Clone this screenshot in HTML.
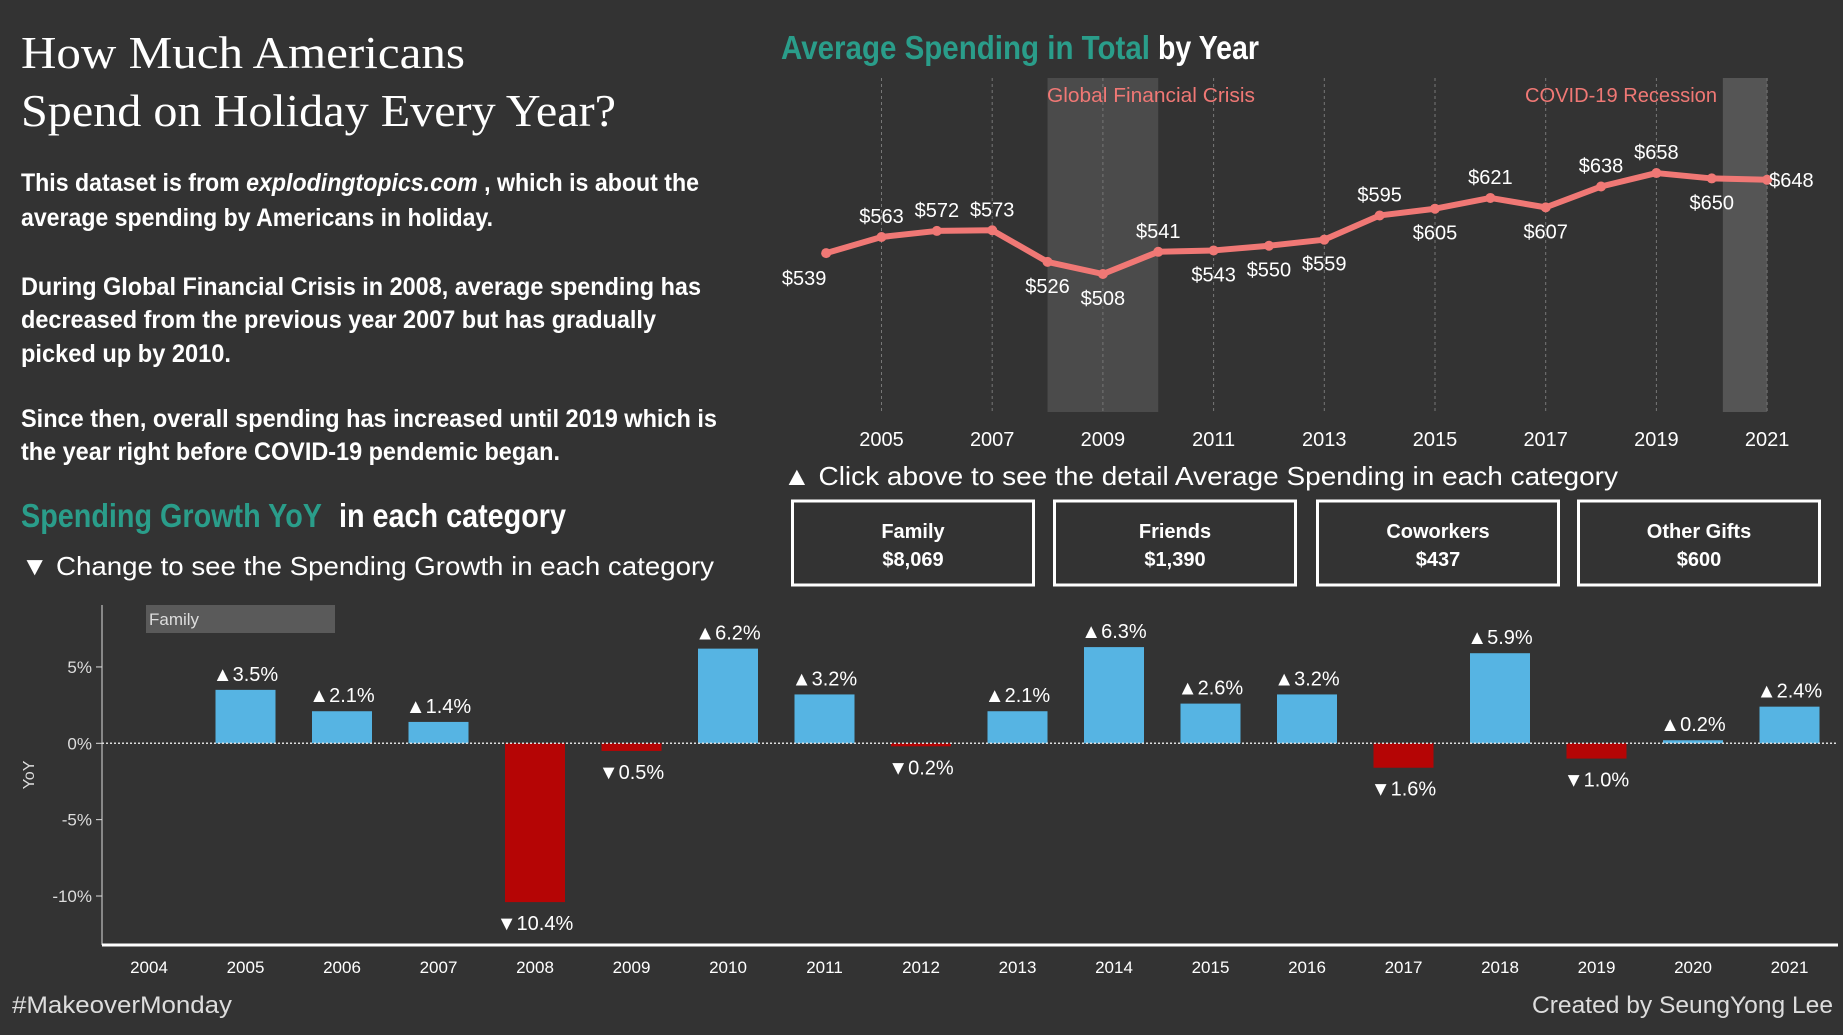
<!DOCTYPE html>
<html><head><meta charset="utf-8"><style>
html,body{margin:0;padding:0;background:#333333;}
svg{display:block;font-family:"Liberation Sans",sans-serif;}
</style></head><body>
<svg width="1843" height="1035" viewBox="0 0 1843 1035">
<rect x="0" y="0" width="1843" height="1035" fill="#333333"/>

<g fill="#ffffff">
<text x="21" y="68" font-family="Liberation Serif,serif" font-size="46" textLength="444" lengthAdjust="spacingAndGlyphs">How Much Americans</text>
<text x="21" y="126" font-family="Liberation Serif,serif" font-size="46" textLength="595" lengthAdjust="spacingAndGlyphs">Spend on Holiday Every Year?</text>
<g font-weight="bold" font-size="25">
<text x="21" y="191" textLength="678" lengthAdjust="spacingAndGlyphs">This dataset is from <tspan font-style="italic">explodingtopics.com</tspan> , which is about the</text>
<text x="21" y="226" textLength="472" lengthAdjust="spacingAndGlyphs">average spending by Americans in holiday.</text>
<text x="21" y="295" textLength="680" lengthAdjust="spacingAndGlyphs">During Global Financial Crisis in 2008, average spending has</text>
<text x="21" y="328" textLength="635" lengthAdjust="spacingAndGlyphs">decreased from the previous year 2007 but has gradually</text>
<text x="21" y="362" textLength="210" lengthAdjust="spacingAndGlyphs">picked up by 2010.</text>
<text x="21" y="427" textLength="696" lengthAdjust="spacingAndGlyphs">Since then, overall spending has increased until 2019 which is</text>
<text x="21" y="460" textLength="539" lengthAdjust="spacingAndGlyphs">the year right before COVID-19 pendemic began.</text>
</g>
<text x="21" y="527" font-size="33" font-weight="bold"><tspan fill="#2a9d8a" textLength="301" lengthAdjust="spacingAndGlyphs">Spending Growth YoY</tspan><tspan x="331" textLength="235" lengthAdjust="spacingAndGlyphs"> in each category</tspan></text>
<text x="21" y="575" font-size="26" textLength="693" lengthAdjust="spacingAndGlyphs">▼ Change to see the Spending Growth in each category</text>
</g>

<g font-weight="bold" font-size="33">
<text x="781" y="59" fill="#2a9d8a" textLength="369" lengthAdjust="spacingAndGlyphs">Average Spending in Total</text>
<text x="1158" y="59" fill="#ffffff" textLength="101" lengthAdjust="spacingAndGlyphs">by Year</text>
</g>
<g id="linechart"></g>

<text x="783" y="485" fill="#ffffff" font-size="26" textLength="835" lengthAdjust="spacingAndGlyphs">▲ Click above  to see the detail Average Spending in each category</text>
<g id="cards"></g>

<g id="barchart"></g>

<text x="12" y="1013" fill="#dddddd" font-size="24" textLength="220" lengthAdjust="spacingAndGlyphs">#MakeoverMonday</text>
<text x="1833" y="1013" text-anchor="end" fill="#dddddd" font-size="24" textLength="301" lengthAdjust="spacingAndGlyphs">Created by SeungYong Lee</text>
</svg>
<script>
// ---- line chart data ----
const lineYears = [2004,2005,2006,2007,2008,2009,2010,2011,2012,2013,2014,2015,2016,2017,2018,2019,2020,2021];
const lineValues = [539,563,572,573,526,508,541,543,550,559,595,605,621,607,638,658,650,648];
const lineTickYears = [2005,2007,2009,2011,2013,2015,2017,2019,2021];
const labelSide = ["bl","a","a","a","b","b","a","b","b","b","a","b","a","b","a","a","b","r"];
// ---- card data ----
const cardNames = ["Family","Friends","Coworkers","Other Gifts"];
const cardValues = ["$8,069","$1,390","$437","$600"];
// ---- bar chart data ----
const barYears = [2004,2005,2006,2007,2008,2009,2010,2011,2012,2013,2014,2015,2016,2017,2018,2019,2020,2021];
const barValues = [null,3.5,2.1,1.4,-10.4,-0.5,6.2,3.2,-0.2,2.1,6.3,2.6,3.2,-1.6,5.9,-1.0,0.2,2.4];
const barTicks = [5,0,-5,-10];

const NS="http://www.w3.org/2000/svg";
function mk(tag,attrs,parent,txt){const e=document.createElementNS(NS,tag);for(const k in attrs)e.setAttribute(k,attrs[k]);if(txt!==undefined)e.textContent=txt;parent.appendChild(e);return e;}

// line chart
const lc=document.getElementById('linechart');
const lx=y=>881.5+(y-2005)*55.35;
const ly=v=>274-(v-508)*0.673;
const b1=mk('rect',{x:lx(2008),y:78,width:lx(2010)-lx(2008),height:334,fill:'#4b4b4b'},lc);


const b2=mk('rect',{x:lx(2020.2),y:78,width:lx(2021)-lx(2020.2),height:334,fill:'#555555'},lc);


lineTickYears.forEach(y=>{
  const g=mk('line',{x1:lx(y),x2:lx(y),y1:78,y2:412,stroke:'#777',"stroke-width":1,"stroke-dasharray":"3,3"},lc);
  
  
  const t=mk('text',{x:lx(y),y:446,"text-anchor":"middle",fill:'#fff',"font-size":20},lc,String(y));
  
  
});
const a1=mk('text',{x:1047,y:102,fill:'#f07875',"font-size":20,textLength:208,lengthAdjust:'spacingAndGlyphs'},lc,'Global Financial Crisis');


const a2=mk('text',{x:1525,y:102,fill:'#f07875',"font-size":20,textLength:192,lengthAdjust:'spacingAndGlyphs'},lc,'COVID-19 Recession');


const pts=lineYears.map((y,i)=>lx(y)+','+ly(lineValues[i])).join(' ');
const pl=mk('polyline',{points:pts,fill:'none',stroke:'#f07875',"stroke-width":6,"stroke-linejoin":'round'},lc);


lineYears.forEach((y,i)=>{
  const cx=lx(y),cy=ly(lineValues[i]);
  const c=mk('circle',{cx:cx,cy:cy,r:5,fill:'#f07875'},lc);
  
  
  const s=labelSide[i];let tx=cx,ty=cy-14,anc='middle';
  if(s==='b'){ty=cy+31;}
  if(s==='bl'){tx=cx-22;ty=cy+32;}
  if(s==='r'){tx=cx+2;ty=cy+7;anc='start';}
  const t=mk('text',{x:tx,y:ty,"text-anchor":anc,fill:'#fff',"font-size":20},lc,'$'+lineValues[i]);
  
  
});

// cards
const cd=document.getElementById('cards');
const cardX=[791,1053,1316,1577];
cardNames.forEach((n,i)=>{
  const r=mk('rect',{x:cardX[i]+1.5,y:501,width:241,height:84,fill:'#333',stroke:'#fff',"stroke-width":3},cd);
  
  
  const t1=mk('text',{x:cardX[i]+122,y:538,"text-anchor":'middle',fill:'#fff',"font-size":20,"font-weight":'bold'},cd,n);
  
  
  const t2=mk('text',{x:cardX[i]+122,y:566,"text-anchor":'middle',fill:'#fff',"font-size":20,"font-weight":'bold'},cd,cardValues[i]);
  
  
});

// bar chart
const bc=document.getElementById('barchart');
const bx=y=>149+(y-2004)*96.5;
const by=v=>743.3-v*15.27;
const fb=mk('rect',{x:146,y:605,width:189,height:28,fill:'#5a5a5a'},bc);


const ft=mk('text',{x:149,y:625,fill:'#ddd',"font-size":17},bc,'Family');


const ya=mk('line',{x1:102,x2:102,y1:605,y2:945,stroke:'#ddd',"stroke-width":1},bc);


barTicks.forEach(v=>{
  const tk=mk('line',{x1:96,x2:102,y1:by(v),y2:by(v),stroke:'#ddd'},bc);
  
  
  const t=mk('text',{x:92,y:by(v)+6,"text-anchor":'end',fill:'#ddd',"font-size":17},bc,v+'%');
  
  
});
const yt=mk('text',{x:34,y:775,"text-anchor":'middle',fill:'#ddd',"font-size":16,transform:'rotate(-90 34 775)'},bc,'YoY');


barYears.forEach((y,i)=>{
  const v=barValues[i];
  const t=mk('text',{x:bx(y),y:973,"text-anchor":'middle',fill:'#fff',"font-size":17},bc,String(y));
  
  
  if(v===null)return;
  const top=Math.min(by(v),by(0)),h=Math.abs(by(v)-by(0));
  const r=mk('rect',{x:bx(y)-30,y:top,width:60,height:h,fill:v>=0?'#56b4e3':'#b50505'},bc);
  
  
  const lbl=(v>=0?'▲':'▼')+Math.abs(v).toFixed(1)+'%';
  const ty=v>=0?by(v)-9:by(v)+28;
  const l=mk('text',{x:bx(y),y:ty,"text-anchor":'middle',fill:'#fff',"font-size":20},bc,lbl);
  
  
});
const zl=mk('line',{x1:102,x2:1838,y1:by(0),y2:by(0),stroke:'#ddd',"stroke-width":1.5,"stroke-dasharray":"2,2"},bc);


const xa=mk('line',{x1:102,x2:1838,y1:945,y2:945,stroke:'#fff',"stroke-width":3},bc);


</script>
</body></html>
